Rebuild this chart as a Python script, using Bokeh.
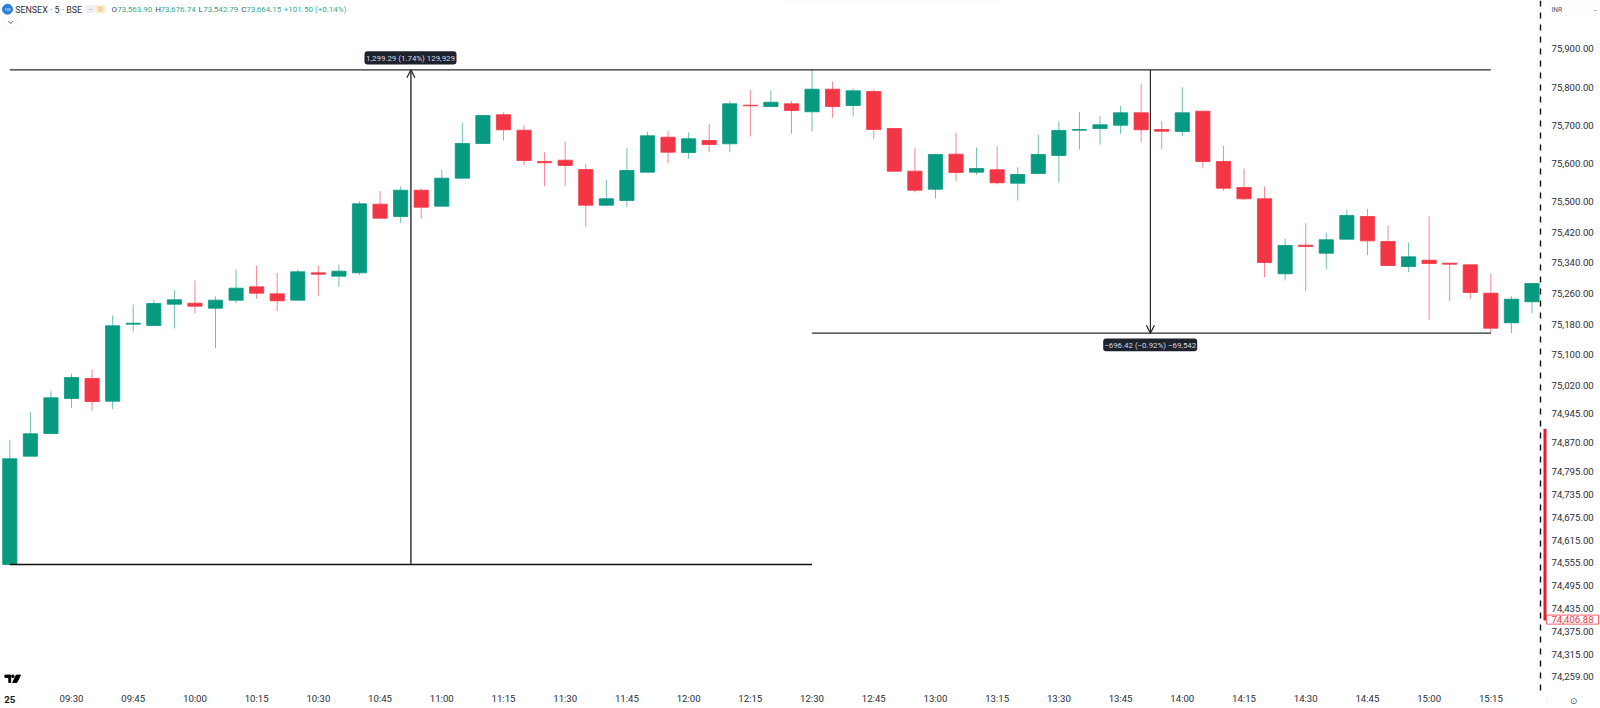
from bokeh.plotting import figure
from bokeh.embed import file_html
from bokeh.resources import INLINE
from bokeh.models import (Label, BoxAnnotation, Arrow, OpenHead, FixedTicker,
                          NumeralTickFormatter, ColumnDataSource)

# ---- data ----
opens = [74551.0,74834.3,74893.7,74985.3,75037.6,74978.2,75179.6,75176.2,75231.9,75234.5,
         75221.4,75242.4,75277.4,75259.1,75242.4,75314.0,75305.2,75314.0,75493.5,75461.3,
         75530.1,75488.3,75561.5,75652.3,75727.3,75687.0,75605.2,75608.6,75584.2,75490.9,
         75503.2,75577.2,75668.7,75628.7,75660.1,75651.5,75752.4,75749.0,75756.1,75735.2,
         75794.3,75751.7,75788.3,75691.5,75579.8,75532.7,75624.3,75577.2,75583.5,75548.4,
         75573.8,75620.9,75687.0,75691.5,75700.1,75732.6,75688.9,75683.6,75736.7,75605.2,
         75537.2,75507.6,75311.4,75386.3,75365.3,75401.9,75461.3,75395.9,75330.5,75347.0,
         75339.2,75335.0,75260.7,75183.3,75238.2]
highs = [74877.2,74949.4,75004.4,75049.9,75061.1,75202.4,75231.1,75243.4,75267.7,75293.9,
         75252.1,75322.7,75333.1,75314.0,75322.7,75333.1,75335.8,75500.5,75527.5,75539.8,
         75534.5,75583.5,75706.4,75725.5,75733.3,75699.3,75629.5,75657.5,75599.2,75557.3,
         75640.0,75682.9,75684.4,75681.0,75703.8,75763.9,75792.7,75790.9,75762.9,75847.6,
         75814.4,75796.1,75793.5,75691.5,75640.0,75625.3,75680.2,75641.8,75644.4,75590.3,
         75675.0,75709.8,75734.1,75723.7,75750.3,75808.4,75710.6,75799.5,75736.7,75646.2,
         75586.9,75539.8,75403.0,75443.8,75419.5,75478.8,75481.4,75437.0,75393.3,75461.3,
         75339.2,75335.0,75311.4,75252.1,75286.1]
lows = [74551.0,74834.3,74893.7,74960.9,74953.9,74957.3,75160.5,75176.2,75168.4,75208.4,
        75116.8,75234.5,75246.0,75213.6,75240.8,75253.9,75276.4,75308.8,75456.9,75444.8,
        75455.3,75488.3,75561.5,75652.3,75660.1,75594.7,75540.6,75540.6,75433.3,75487.5,
        75485.6,75577.2,75600.7,75613.0,75629.5,75629.5,75670.6,75749.0,75677.6,75683.6,
        75719.5,75723.7,75663.5,75579.8,75524.1,75508.4,75553.6,75570.4,75545.0,75503.2,
        75573.0,75550.2,75636.6,75649.6,75677.6,75655.7,75637.3,75671.3,75587.6,75529.3,
        75505.0,75302.5,75293.9,75265.9,75323.5,75401.9,75360.1,75333.1,75315.6,75191.1,
        75239.8,75245.0,75156.1,75156.1,75208.4]
closes = [74827.5,74892.9,74987.1,75040.2,74977.4,75175.4,75182.2,75233.7,75243.4,75226.7,
          75242.4,75273.8,75260.7,75240.8,75316.7,75310.4,75318.2,75494.5,75456.9,75530.1,
          75485.6,75561.5,75652.3,75725.5,75688.1,75607.8,75601.8,75594.7,75490.9,75507.6,
          75581.6,75672.4,75629.5,75664.6,75649.6,75756.1,75750.9,75760.3,75738.6,75794.3,
          75749.0,75790.1,75688.9,75579.8,75530.1,75623.5,75576.4,75586.9,75549.5,75571.2,
          75623.5,75686.3,75688.9,75701.2,75732.6,75688.1,75684.4,75732.6,75605.2,75535.3,
          75507.6,75341.0,75385.5,75382.8,75400.4,75463.9,75397.7,75333.1,75355.9,75338.4,
          75336.5,75262.5,75169.1,75245.0,75286.1]

price_ticks = [75900,75800,75700,75600,75500,75420,75340,75260,75180,75100,75020,74945,
               74870,74795,74735,74675,74615,74555,74495,74435,74375,74315,74259]
time_labels = ["09:30","09:45","10:00","10:15","10:30","10:45","11:00","11:15","11:30","11:45",
               "12:00","12:15","12:30","12:45","13:00","13:15","13:30","13:45","14:00","14:15",
               "14:30","14:45","15:00","15:15"]
time_index = list(range(3, 75, 3))

top_level = 75845.0
low_level_left = 74551.0
low_level_right = 75156.1
last_price = 74406.88

GREEN = "#089981"
RED = "#F23645"
INK = "#131722"
PX = 20.57            # pixels per candle
UNIT = 2.6157         # price per pixel
Y_TOP = 76026.3
X_START = -9.3 / PX
AXIS_X, AXIS_Y = 1540, 690

def sx(px):
    return X_START + px / PX

def sy(py):
    return Y_TOP - py * UNIT

p = figure(width=1600, height=708, output_backend="svg", toolbar_location=None,
           x_range=(sx(0), sx(1600)), y_range=(sy(708), sy(0)),
           y_axis_location="right", min_border=0,
           background_fill_color="white", border_fill_color="white")
p.outline_line_color = None
p.grid.visible = False

# axes
p.yaxis.fixed_location = sx(AXIS_X)
p.yaxis.bounds = (sy(AXIS_Y), sy(0))
p.yaxis.ticker = FixedTicker(ticks=price_ticks)
p.yaxis.formatter = NumeralTickFormatter(format="0,0.00")
p.yaxis.major_tick_line_color = None
p.yaxis.minor_tick_line_color = None
p.yaxis.axis_line_color = "#111111"
p.yaxis.axis_line_width = 1.4
p.yaxis.axis_line_dash = "6 6"
p.yaxis.major_label_standoff = 5
p.yaxis.major_label_text_font = "Roboto"
p.yaxis.major_label_text_font_size = "9.6px"
p.yaxis.major_label_text_color = "#2a2e39"

p.xaxis.fixed_location = sy(AXIS_Y - 3.5)
p.xaxis.ticker = FixedTicker(ticks=time_index)
p.xaxis.major_label_overrides = dict(zip(time_index, time_labels))
p.xaxis.major_tick_line_color = None
p.xaxis.minor_tick_line_color = None
p.xaxis.axis_line_color = None
p.xaxis.major_label_standoff = 0
p.xaxis.major_label_text_font = "Roboto"
p.xaxis.major_label_text_font_size = "9.6px"
p.xaxis.major_label_text_color = "#2a2e39"

# candles
idx = list(range(len(opens)))
colors = [GREEN if c >= o else RED for o, c in zip(opens, closes)]
src = ColumnDataSource(dict(x=idx, open=opens, high=highs, low=lows, close=closes,
                            top=[max(o, c) for o, c in zip(opens, closes)],
                            bottom=[min(o, c) for o, c in zip(opens, closes)], color=colors))
p.segment("x", "high", "x", "low", source=src, line_color="color", line_width=1, line_alpha=0.6)
p.vbar("x", 14.2 / PX, "top", "bottom", source=src, fill_color="color", line_color="color", line_width=0.8)

# measurement drawings
LINE = "#2b2b2b"
p.line([0, 72], [top_level, top_level], line_color=LINE, line_width=1.2)
p.line([0, 39], [low_level_left, low_level_left], line_color="#111111", line_width=1.5)
p.line([39, 72], [low_level_right, low_level_right], line_color=LINE, line_width=1.2)
p.add_layout(Arrow(x_start=19.5, y_start=low_level_left, x_end=19.5, y_end=top_level,
                   line_color=LINE, line_width=1.4,
                   end=OpenHead(size=8, line_color=LINE, line_width=1.3)))
p.add_layout(Arrow(x_start=55.45, y_start=top_level, x_end=55.45, y_end=low_level_right,
                   line_color=LINE, line_width=1.2,
                   end=OpenHead(size=8, line_color=LINE, line_width=1.3)))

def label(px, py, text, size, color=INK, align="left", font="Roboto", style="normal", **kw):
    p.add_layout(Label(x=sx(px), y=sy(py), text=text, text_font=font, text_font_size=f"{size}px",
                       text_color=color, text_align=align, text_baseline="middle",
                       text_font_style=style, level="overlay", **kw))

def box(x0, x1, y0, y1, fill, line=None, radius=0):
    p.add_layout(BoxAnnotation(left=sx(x0), right=sx(x1), top=sy(y0), bottom=sy(y1),
                               fill_color=fill, fill_alpha=1, line_color=line, line_width=1,
                               border_radius=radius, level="annotation"))

# measurement tags
box(364, 456, 50.7, 64, "#1e222d", radius=3)
label(410, 57.6, "1,299.29 (1.74%) 129,929", 7.9, "#d6d9e2", "center")
box(1102.7, 1196.7, 338, 350.7, "#1e222d", radius=3)
label(1149.7, 344.6, "\u2212696.42 (\u22120.92%) \u221269,542", 7.9, "#d6d9e2", "center")

# header
p.scatter([sx(7)], [sy(8.7)], size=10, color="#2a7fd6")
label(7, 8.9, "100", 3.6, "white", "center")
label(14.7, 9, "SENSEX \u00b7 5 \u00b7 BSE", 8.9, "#2a2e39")
box(85, 95, 4.5, 12.5, "#eef0f4", radius=2)
box(95, 105, 4.5, 12.5, "#ffe9c9", radius=2)
label(90, 8.5, "\u2014", 5, "#8a8f9c", "center")
label(100, 8.7, "D", 5.5, "#f0a030", "center")
for x_l, letter, x_v, val in [(111, "O", 116.7, "73,563.90"), (154.7, "H", 160, "73,676.74"),
                              (198, "L", 202.7, "73,542.79"), (240.7, "C", 245.7, "73,664.15")]:
    label(x_l, 9, letter, 8, "#4a4f5c")
    label(x_v, 9, val, 8, "#3aa894")
label(283.3, 9, "+101.50 (+0.14%)", 8, "#3aa894")
box(2.7, 18, 16, 27.3, "white", "#e0e3eb", radius=2)
p.line([sx(8), sx(10.3), sx(12.6)], [sy(20.6), sy(23), sy(20.6)], line_color="#4a4f5c", line_width=1, level="overlay")

# currency button, price tag and side bar
box(1548, 1598, 3, 15, "white", "#f0f1f5", radius=2)
label(1551, 9, "INR", 6.6, "#50535e")
label(1593, 9, "\u2013", 6, "#50535e")
box(1543, 1546, 428.3, 620, "#dc1f30")
p.add_layout(Label(x=sx(1572), y=last_price, text=f"{last_price:,.2f}", text_font="Roboto",
                   text_font_size="9.6px", text_color=RED, text_align="center", text_baseline="middle",
                   background_fill_color="white", border_line_color=RED, border_line_width=0.8,
                   padding=(5, 1), level="overlay"))

# x-axis day marker and bottom corner
label(9.3, 699, "25", 9.6, "#131722", "center", style="bold")
label(1546, 700, "\u22ee", 8, "#d1d4dc", "center")
label(1573, 700, "\u2299", 9, "#50535e", "center", font="DejaVu Sans")

# logo
p.patch([sx(v) for v in [4.4, 10.2, 10.2, 8.3, 8.3, 4.4]],
        [sy(v) for v in [674.6, 674.6, 682, 682, 676.9, 676.9]], color="#000000")
p.scatter([sx(12.4)], [sy(675.8)], size=2.6, color="#000000")
p.patch([sx(v) for v in [15.8, 20, 16.3, 12.2]], [sy(v) for v in [674.6, 674.6, 682, 682]], color="#000000")

# faint strip at the very top
box(782, 1000, 0, 1, "#f4f4f5")

open("out.html", "w").write(file_html(p, INLINE))
